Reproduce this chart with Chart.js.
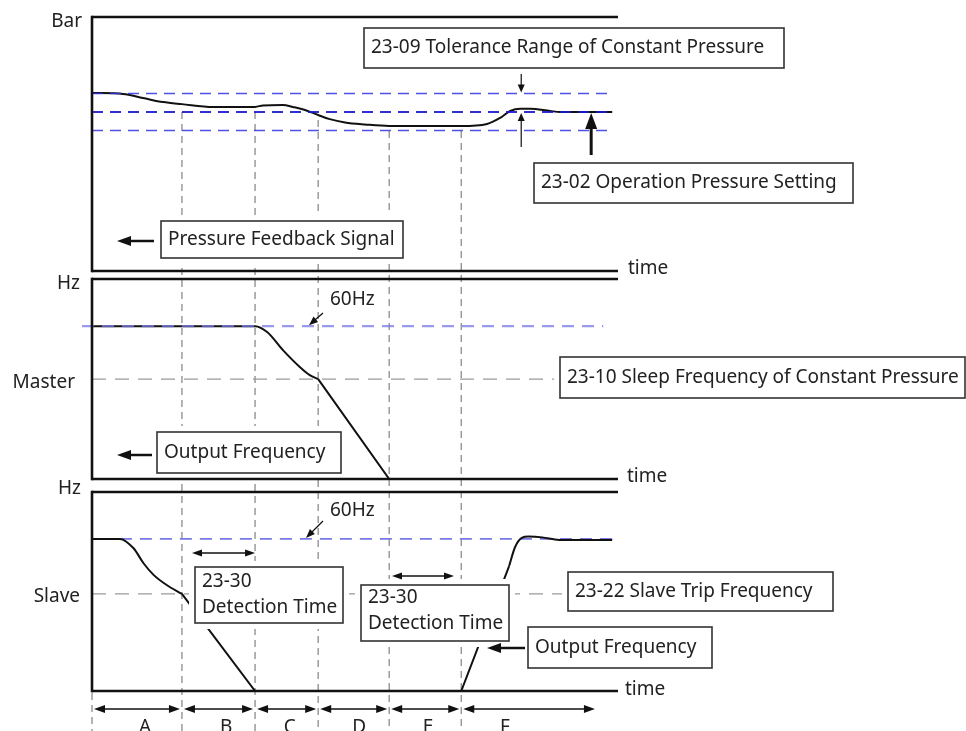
<!DOCTYPE html>
<html>
<head>
<meta charset="utf-8">
<script src="https://cdn.jsdelivr.net/npm/chart.js@4.4.0/dist/chart.umd.min.js"></script>
<style>
  body { margin: 0; background: #fff; }
  #wrap { position: relative; width: 966px; height: 731px; overflow: hidden; }
</style>
</head>
<body>
<div id="wrap"><canvas id="chart" width="966" height="731"></canvas></div>
<script>
// time axis (arbitrary units) and the phases A..F
const phaseNames = ['A', 'B', 'C', 'D', 'E', 'F'];
const phaseEdges = [0, 17.1, 31.0, 43.0, 56.5, 70.2, 96.0];
const phaseLabelAt = [10.1, 25.5, 37.6, 50.8, 63.9, 78.5];

// pressure feedback signal (bar)
const pressureTime = [0, 5.9, 9.7, 13.5, 17.1, 23.0, 28.1, 31.0, 32.5, 36.3, 38.2, 40.5, 43.0, 45.2, 48.1, 51.9, 56.5, 70.2, 75.1, 77.6, 79.5, 81.4, 83.3, 87.1, 89.0, 98.9];
const pressureValue = [7.01, 6.97, 6.81, 6.65, 6.57, 6.46, 6.46, 6.46, 6.52, 6.54, 6.46, 6.34, 6.14, 5.98, 5.85, 5.77, 5.71, 5.71, 5.79, 6.03, 6.30, 6.39, 6.39, 6.30, 6.26, 6.26];
const pressureSetting = 6.26;
const pressureTolerance = 0.73;

// master output frequency (Hz)
const masterCurveTime = [0, 31.0, 33.3, 36.3, 39.5, 41.4, 43.0];
const masterCurveValue = [60, 60, 57.7, 50.6, 44.0, 40.8, 39.2];
const masterRampTime = [43.0, 56.5, 100];
const masterRampValue = [39.2, 0, 0];
const masterSleep = 39.2;

// slave output frequency (Hz)
const slaveCoastTime = [0, 5.3, 7.9, 9.8, 11.7, 14.2, 17.1];
const slaveCoastValue = [60, 60, 56.3, 50.4, 45.8, 41.8, 38.3];
const slaveRampTime = [17.1, 31.0, 70.2, 79.3];
const slaveRampValue = [38.3, 0, 0, 49.3];
const slaveRecoverTime = [79.3, 80.4, 81.7, 83.0, 85.6, 88.8, 98.9];
const slaveRecoverValue = [49.3, 56.6, 60.4, 60.9, 60.6, 59.6, 59.6];
const slaveTrip = 38.3;
const ratedFreq = 60;

// panel placement on the page (px) and the value at the top of each panel
const area = { left: 92, right: 618, top: 17, bottom: 691 };
const panels = {
  yP: { top: 17, bottom: 271, vmax: 10 },
  yM: { top: 279, bottom: 479, vmax: 78.5 },
  yS: { top: 492, bottom: 691, vmax: 78.5 }
};

function rangeFor(p) {
  const k = (p.bottom - p.top) / p.vmax;
  return { min: -(area.bottom - p.bottom) / k, max: p.vmax + (p.top - area.top) / k };
}

function pts(t, v) {
  return t.map((x, i) => ({ x: x, y: v[i] }));
}

const FONT = '19px "Noto Sans", sans-serif';
const INK = '#222';

function hline(ctx, x1, x2, y, color, lw, dash) {
  ctx.save();
  ctx.strokeStyle = color; ctx.lineWidth = lw; ctx.setLineDash(dash || []);
  ctx.beginPath(); ctx.moveTo(x1, y); ctx.lineTo(x2, y); ctx.stroke();
  ctx.restore();
}

function vline(ctx, x, y1, y2, color, lw, dash) {
  ctx.save();
  ctx.strokeStyle = color; ctx.lineWidth = lw; ctx.setLineDash(dash || []);
  ctx.beginPath(); ctx.moveTo(x, y1); ctx.lineTo(x, y2); ctx.stroke();
  ctx.restore();
}

function head(ctx, x1, y1, x2, y2, len, half) {
  const a = Math.atan2(y2 - y1, x2 - x1);
  const c = Math.cos(a), s = Math.sin(a);
  ctx.beginPath();
  ctx.moveTo(x2, y2);
  ctx.lineTo(x2 - len * c + half * s, y2 - len * s - half * c);
  ctx.lineTo(x2 - len * c - half * s, y2 - len * s + half * c);
  ctx.closePath();
  ctx.fill();
}

function arrow(ctx, x1, y1, x2, y2, lw, len, half, both) {
  ctx.save();
  ctx.setLineDash([]);
  ctx.strokeStyle = '#111'; ctx.fillStyle = '#111'; ctx.lineWidth = lw;
  const a = Math.atan2(y2 - y1, x2 - x1);
  const ex = x2 - Math.cos(a) * len * 0.7, ey = y2 - Math.sin(a) * len * 0.7;
  let sx = x1, sy = y1;
  if (both) { sx = x1 + Math.cos(a) * len * 0.7; sy = y1 + Math.sin(a) * len * 0.7; }
  ctx.beginPath(); ctx.moveTo(sx, sy); ctx.lineTo(ex, ey); ctx.stroke();
  head(ctx, x1, y1, x2, y2, len, half);
  if (both) head(ctx, x2, y2, x1, y1, len, half);
  ctx.restore();
}

function label(ctx, s, x, y, align, baseline) {
  ctx.save();
  ctx.font = FONT; ctx.fillStyle = INK;
  ctx.textAlign = align || 'left'; ctx.textBaseline = baseline || 'middle';
  ctx.fillText(s, x, y);
  ctx.restore();
}

function box(ctx, x, y, w, h, lines, lineYs) {
  ctx.save();
  ctx.fillStyle = '#fff';
  ctx.fillRect(x - 6, y - 6, w + 12, h + 12);
  ctx.strokeStyle = '#333'; ctx.lineWidth = 1.6;
  ctx.strokeRect(x, y, w, h);
  ctx.restore();
  lines.forEach((s, i) => label(ctx, s, x + 7, lineYs ? lineYs[i] : y + h / 2));
}

const diagram = {
  id: 'diagram',
  beforeDatasetsDraw(chart) {
    const ctx = chart.ctx;
    const x = chart.scales.x, yP = chart.scales.yP, yM = chart.scales.yM, yS = chart.scales.yS;
    const grey = '#8c8c8c';

    // phase boundaries running down through all panels
    const setPx = yP.getPixelForValue(pressureSetting);
    for (let i = 1; i < phaseEdges.length - 1; i++) {
      const t = phaseEdges[i];
      const k = pressureTime.indexOf(t);
      const curvePx = yP.getPixelForValue(pressureValue[k]);
      const top = Math.max(setPx, curvePx + 5);
      vline(ctx, x.getPixelForValue(t), top, 731, grey, 1.3, [7, 5]);
    }
    vline(ctx, x.getPixelForValue(phaseEdges[0]), panels.yS.bottom + 2, 731, grey, 1.3, [7, 5]);

    // reference levels
    hline(ctx, area.left, x.getPixelForValue(88.5), yM.getPixelForValue(masterSleep), '#9a9a9a', 1.3, [14, 9]);
    hline(ctx, area.left, x.getPixelForValue(90.5), yS.getPixelForValue(slaveTrip), '#9a9a9a', 1.3, [14, 9]);
    hline(ctx, x.getPixelForValue(5.3), x.getPixelForValue(98.9), yS.getPixelForValue(ratedFreq), '#7878e6', 1.8, [12, 8]);
  },
  afterDatasetsDraw(chart) {
    const ctx = chart.ctx;
    const x = chart.scales.x, yP = chart.scales.yP, yM = chart.scales.yM, yS = chart.scales.yS;

    // pressure tolerance band and setting
    const bandEnd = x.getPixelForValue(98.6);
    hline(ctx, area.left, bandEnd, yP.getPixelForValue(pressureSetting + pressureTolerance), 'rgba(50,50,225,0.85)', 1.5, [11, 7]);
    hline(ctx, area.left, bandEnd, yP.getPixelForValue(pressureSetting), 'rgba(25,25,200,0.9)', 2, [11, 7]);
    hline(ctx, area.left, bandEnd, yP.getPixelForValue(pressureSetting - pressureTolerance), 'rgba(50,50,225,0.85)', 1.5, [11, 7]);
    // master rated frequency
    hline(ctx, x.getPixelForValue(-1.9), x.getPixelForValue(97.2), yM.getPixelForValue(ratedFreq), 'rgba(120,120,230,0.75)', 2.2, [12, 8]);

    // text boxes
    box(ctx, 364, 28, 420, 40, ['23-09 Tolerance Range of Constant Pressure']);
    box(ctx, 534, 163, 319, 40, ['23-02 Operation Pressure Setting']);
    box(ctx, 161, 221, 242, 37, ['Pressure Feedback Signal']);
    box(ctx, 560, 357, 405, 41, ['23-10 Sleep Frequency of Constant Pressure']);
    box(ctx, 157, 432, 184, 41, ['Output Frequency']);
    box(ctx, 195, 567, 148, 56, ['23-30', 'Detection Time'], [582, 608]);
    box(ctx, 361, 585, 148, 56, ['23-30', 'Detection Time'], [598, 624]);
    box(ctx, 568, 572, 265, 39, ['23-22 Slave Trip Frequency']);
    box(ctx, 528, 627, 184, 41, ['Output Frequency']);

    // panel frames
    Object.keys(panels).forEach(id => {
      const s = chart.scales[id];
      const top = s.getPixelForValue(panels[id].vmax), bottom = s.getPixelForValue(0);
      hline(ctx, area.left, area.right, top, '#111', 2.6);
      hline(ctx, area.left, area.right, bottom, '#111', 2.6);
      vline(ctx, area.left, top - 1.3, bottom + 1.3, '#111', 2.6);
    });

    // arrows
    const tolX = x.getPixelForValue(81.6);
    arrow(ctx, tolX, 74, tolX, yP.getPixelForValue(pressureSetting + pressureTolerance) - 1, 1.2, 8, 3.5);
    arrow(ctx, tolX, 147, tolX, yP.getPixelForValue(pressureSetting) + 1, 1.2, 8, 3.5);
    const setX = x.getPixelForValue(94.9);
    arrow(ctx, setX, 155, setX, yP.getPixelForValue(pressureSetting) + 1, 3, 16, 6);
    arrow(ctx, 154, 241, 117, 241, 2.5, 14, 5);
    arrow(ctx, 152, 455, 117, 455, 2.5, 14, 5);
    arrow(ctx, 525, 648, 487, 648, 2.5, 14, 5);
    arrow(ctx, 323, 313, 309, yM.getPixelForValue(ratedFreq) - 1, 1.2, 9, 3.5);
    arrow(ctx, 323, 521, 306, yS.getPixelForValue(ratedFreq) - 1, 1.2, 9, 3.5);
    arrow(ctx, 192, 553, x.getPixelForValue(phaseEdges[2]), 553, 1.3, 10, 3.5, true);
    arrow(ctx, 392, 576, 454, 576, 1.3, 10, 3.5, true);
    for (let i = 0; i < phaseNames.length; i++) {
      const a = x.getPixelForValue(phaseEdges[i]) + 2;
      const b = x.getPixelForValue(phaseEdges[i + 1]) - 2;
      arrow(ctx, a, 709, b, 709, 1.3, 11, 4, true);
      label(ctx, phaseNames[i], x.getPixelForValue(phaseLabelAt[i]), 733, 'center', 'alphabetic');
    }

    // axis names
    label(ctx, 'Bar', 82, 22, 'right');
    label(ctx, 'Hz', 80, 284, 'right');
    label(ctx, 'Hz', 81, 489, 'right');
    label(ctx, 'Master', 75, yM.getPixelForValue(masterSleep) + 3, 'right');
    label(ctx, 'Slave', 80, yS.getPixelForValue(slaveTrip) + 3, 'right');
    label(ctx, 'time', 628, panels.yP.bottom - 2);
    label(ctx, 'time', 627, panels.yM.bottom - 2);
    label(ctx, 'time', 625, panels.yS.bottom - 1);
    label(ctx, '60Hz', 330, 300);
    label(ctx, '60Hz', 330, 511);
  }
};

const line = (data, yAxisID, curved) => ({
  data: data,
  yAxisID: yAxisID,
  borderColor: '#111',
  borderWidth: 2,
  pointRadius: 0,
  fill: false,
  tension: 0,
  cubicInterpolationMode: curved ? 'monotone' : 'default'
});

const yScale = id => Object.assign({ type: 'linear', display: false }, rangeFor(panels[id]));

new Chart(document.getElementById('chart'), {
  type: 'line',
  data: {
    datasets: [
      line(pts(pressureTime, pressureValue), 'yP', true),
      line(pts(masterCurveTime, masterCurveValue), 'yM', true),
      line(pts(masterRampTime, masterRampValue), 'yM', false),
      line(pts(slaveCoastTime, slaveCoastValue), 'yS', true),
      line(pts(slaveRampTime, slaveRampValue), 'yS', false),
      line(pts(slaveRecoverTime, slaveRecoverValue), 'yS', true)
    ]
  },
  options: {
    responsive: false,
    animation: false,
    events: [],
    layout: { padding: { left: area.left, right: 966 - area.right, top: area.top, bottom: 731 - area.bottom } },
    plugins: { legend: { display: false }, tooltip: { enabled: false } },
    scales: {
      x: { type: 'linear', display: false, min: 0, max: 100 },
      yP: yScale('yP'),
      yM: yScale('yM'),
      yS: yScale('yS')
    }
  },
  plugins: [diagram]
});
</script>
</body>
</html>
